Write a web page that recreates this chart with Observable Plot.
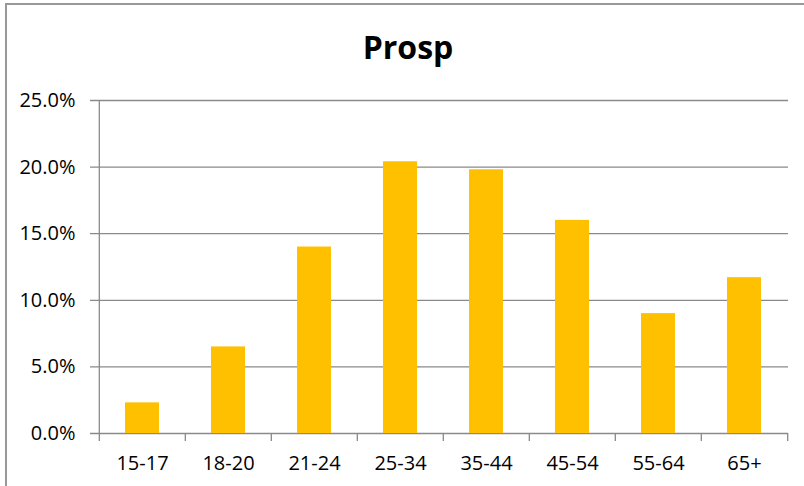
<!DOCTYPE html>
<html>
<head>
<meta charset="utf-8">
<script src="https://cdn.jsdelivr.net/npm/d3@7"></script>
<script src="https://cdn.jsdelivr.net/npm/@observablehq/plot@0.6"></script>
<style>
  html, body { margin: 0; padding: 0; background: #fff; overflow: hidden; }
  #wrap { position: relative; width: 804px; height: 486px; overflow: hidden; }
  #frame { position: absolute; left: 5px; top: 3px; width: 900px; height: 600px;
           border-top: 2px solid #999; border-left: 2px solid #999; box-sizing: border-box; }
  #title { position: absolute; left: 0; top: 25px; width: 816px; text-align: center;
           font-family: "Open Sans", sans-serif; font-weight: 700; font-size: 32px;
           line-height: 44px; color: #000; }
  #chart svg { position: absolute; left: 0; top: 0; }
</style>
</head>
<body>
<div id="wrap">
  <div id="frame"></div>
  <div id="chart"></div>
  <div id="title">Prosp</div>
</div>
<script>
const categories = ["15-17", "18-20", "21-24", "25-34", "35-44", "45-54", "55-64", "65+"];
const shares = [2.3, 6.5, 14.0, 20.4, 19.8, 16.0, 9.0, 11.7];
const yTicks = [0, 5, 10, 15, 20, 25];
const titleText = "Prosp";

document.getElementById("title").textContent = titleText;

const data = categories.map((c, i) => ({category: c, share: shares[i]}));

const width = 804, height = 486;
const marginLeft = 97, marginRight = 16, marginTop = 100, marginBottom = 53;
const bw = (width - marginLeft - marginRight) / categories.length;
const gridColor = "#8a8a8a";

const chart = Plot.plot({
  width, height, marginLeft, marginRight, marginTop, marginBottom,
  style: {fontFamily: "'Open Sans', sans-serif", fontSize: "20px", color: "#000", background: "transparent", overflow: "visible"},
  x: {type: "band", domain: categories, padding: 0, label: null},
  y: {domain: [0, 25], label: null},
  marks: [
    Plot.ruleY(yTicks, {y: d => d, stroke: gridColor, strokeWidth: 1.3, insetLeft: -7}),
    Plot.barY(data, {x: "category", y: "share", fill: "#FFC000", insetLeft: 26, insetRight: 26}),
    // category boundary ticks (Excel style)
    Plot.ruleX(categories.slice(1), {x: d => d, dx: -bw / 2, y1: 0, y2: 0, insetBottom: -8, stroke: gridColor, strokeWidth: 1.3}),
    Plot.ruleX(categories.slice(-1), {x: d => d, dx: bw / 2, y1: 0, y2: 0, insetBottom: -8, stroke: gridColor, strokeWidth: 1.3}),
    // vertical axis line
    Plot.ruleX(categories.slice(0, 1), {x: d => d, dx: -bw / 2, y1: 25, y2: 0, insetBottom: -8, stroke: gridColor, strokeWidth: 1.3}),
    Plot.axisY(yTicks, {tickSize: 0, tickPadding: 22, tickFormat: d => d.toFixed(1) + "%", fill: "#000", fontSize: 20}),
    Plot.axisX({tickSize: 0, tickPadding: 22, fill: "#000", fontSize: 20})
  ]
});
document.getElementById("chart").appendChild(chart);
</script>
</body>
</html>
